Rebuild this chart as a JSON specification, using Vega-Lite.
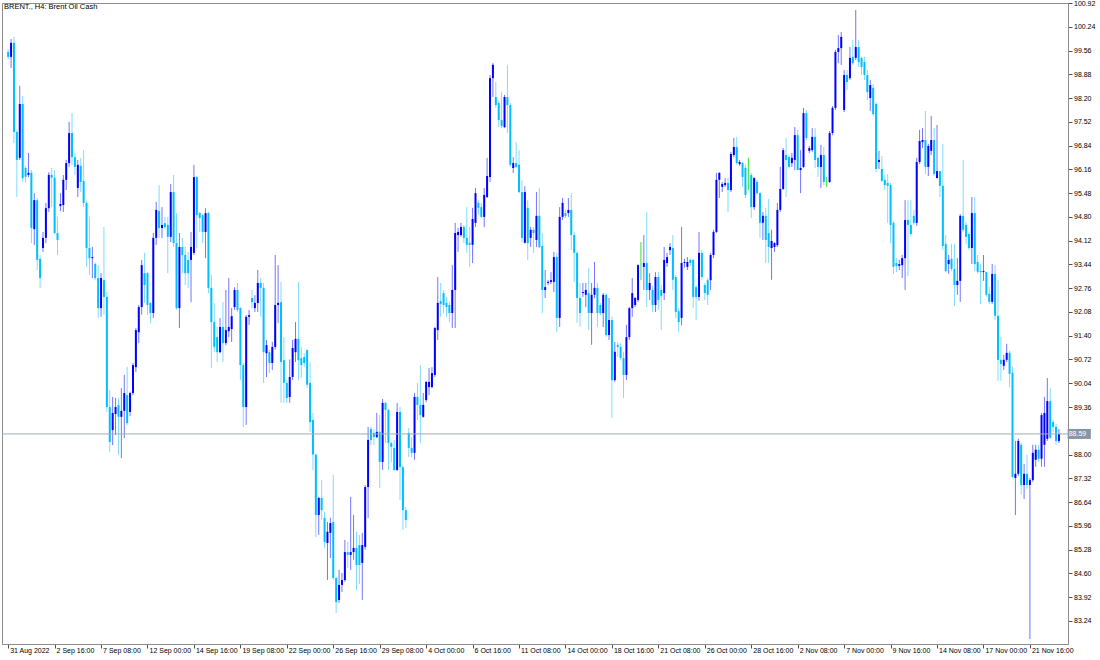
{
"$schema": "https://vega.github.io/schema/vega-lite/v6.json",
"width": 1066,
"height": 641,
"autosize": "none",
"padding": {"left": 2, "top": 3, "right": 32, "bottom": 16},
"background": "white",
"config": {"view": {"stroke": "#8c8c8c", "strokeWidth": 1}, "font": "Liberation Sans", "axis": {"labelOverlap": false, "labelFlush": false, "labelBound": false, "grid": false, "labelFontSize": 7, "labelFont": "Liberation Sans", "labelColor": "#000000", "tickSize": 4, "tickColor": "#505050", "domainColor": "#8c8c8c", "title": null}},
"title": {"text": "BRENT., H4:  Brent Oil Cash", "anchor": "start", "frame": "group", "orient": "top", "offset": -11, "baseline": "top", "dx": 2, "fontSize": 7.5, "fontWeight": "normal", "font": "Liberation Sans", "color": "#000000"},
"resolve": {"axis": {"x": "independent", "y": "independent"}},
"datasets": {
"bars": [
{"i":0,"o":99.52,"h":99.60,"l":99.30,"c":99.38},
{"i":1,"o":99.38,"h":99.89,"l":99.06,"c":99.78},
{"i":2,"o":99.78,"h":99.95,"l":96.91,"c":97.23},
{"i":3,"o":97.23,"h":97.30,"l":95.37,"c":96.43},
{"i":4,"o":96.49,"h":98.55,"l":96.43,"c":98.03},
{"i":5,"o":98.03,"h":98.26,"l":95.80,"c":95.91},
{"i":6,"o":96.20,"h":96.25,"l":95.78,"c":95.95},
{"i":7,"o":96.00,"h":96.63,"l":95.94,"c":96.06},
{"i":8,"o":96.06,"h":96.14,"l":94.05,"c":94.48},
{"i":9,"o":94.45,"h":95.48,"l":94.00,"c":95.28},
{"i":10,"o":95.28,"h":95.34,"l":93.28,"c":93.57},
{"i":11,"o":93.60,"h":93.71,"l":92.77,"c":93.05},
{"i":12,"o":93.91,"h":94.37,"l":93.80,"c":94.20},
{"i":13,"o":94.20,"h":95.20,"l":94.05,"c":95.05},
{"i":14,"o":95.05,"h":96.08,"l":94.94,"c":96.00},
{"i":15,"o":96.00,"h":96.20,"l":95.08,"c":95.92},
{"i":16,"o":95.92,"h":96.14,"l":94.30,"c":94.34},
{"i":17,"o":94.34,"h":94.80,"l":93.71,"c":94.14},
{"i":18,"o":95.11,"h":95.48,"l":94.97,"c":95.17},
{"i":19,"o":95.14,"h":96.00,"l":94.94,"c":95.86},
{"i":20,"o":95.86,"h":96.43,"l":95.57,"c":96.34},
{"i":21,"o":96.34,"h":97.52,"l":96.23,"c":97.20},
{"i":22,"o":97.20,"h":97.77,"l":96.28,"c":96.51},
{"i":23,"o":96.51,"h":96.63,"l":96.00,"c":96.23},
{"i":24,"o":95.63,"h":96.43,"l":95.37,"c":96.29},
{"i":25,"o":96.26,"h":96.49,"l":95.51,"c":95.80},
{"i":26,"o":95.83,"h":96.71,"l":95.08,"c":95.20},
{"i":27,"o":95.20,"h":95.25,"l":93.37,"c":93.91},
{"i":28,"o":93.91,"h":94.80,"l":93.14,"c":93.62},
{"i":29,"o":93.62,"h":93.94,"l":93.05,"c":93.65},
{"i":30,"o":93.45,"h":93.50,"l":93.00,"c":93.05},
{"i":31,"o":93.05,"h":93.42,"l":91.91,"c":92.19},
{"i":32,"o":92.19,"h":93.19,"l":91.94,"c":93.05},
{"i":33,"o":92.99,"h":94.51,"l":92.00,"c":92.51},
{"i":34,"o":92.51,"h":92.65,"l":89.22,"c":89.36},
{"i":35,"o":89.36,"h":89.85,"l":88.07,"c":88.36},
{"i":36,"o":88.70,"h":89.65,"l":88.27,"c":89.19},
{"i":37,"o":89.16,"h":89.62,"l":88.56,"c":89.36},
{"i":38,"o":89.42,"h":89.62,"l":87.99,"c":89.08},
{"i":39,"o":89.08,"h":89.90,"l":87.90,"c":89.25},
{"i":40,"o":89.25,"h":90.28,"l":88.47,"c":89.76},
{"i":41,"o":89.70,"h":90.51,"l":88.85,"c":88.90},
{"i":42,"o":89.22,"h":89.80,"l":89.10,"c":89.76},
{"i":43,"o":89.76,"h":90.62,"l":89.70,"c":90.56},
{"i":44,"o":90.50,"h":91.62,"l":90.36,"c":91.56},
{"i":45,"o":91.50,"h":92.28,"l":91.19,"c":92.22},
{"i":46,"o":92.22,"h":93.57,"l":92.00,"c":93.42},
{"i":47,"o":93.19,"h":93.77,"l":92.34,"c":92.85},
{"i":48,"o":93.19,"h":93.22,"l":92.00,"c":92.28},
{"i":49,"o":92.34,"h":92.36,"l":91.76,"c":92.05},
{"i":50,"o":92.05,"h":94.34,"l":91.91,"c":94.20},
{"i":51,"o":94.20,"h":95.23,"l":94.00,"c":95.00},
{"i":52,"o":94.97,"h":95.71,"l":94.20,"c":94.48},
{"i":53,"o":94.48,"h":95.08,"l":94.20,"c":94.57},
{"i":54,"o":94.62,"h":94.80,"l":94.45,"c":94.51},
{"i":55,"o":94.57,"h":94.80,"l":93.19,"c":94.23},
{"i":56,"o":94.23,"h":95.74,"l":94.08,"c":95.51},
{"i":57,"o":95.51,"h":96.00,"l":93.94,"c":94.05},
{"i":58,"o":94.05,"h":94.91,"l":92.15,"c":92.19},
{"i":59,"o":92.19,"h":94.34,"l":91.62,"c":93.94},
{"i":60,"o":93.94,"h":94.20,"l":93.19,"c":93.71},
{"i":61,"o":93.71,"h":93.94,"l":92.85,"c":93.19},
{"i":62,"o":93.57,"h":93.80,"l":92.77,"c":93.19},
{"i":63,"o":93.57,"h":94.37,"l":92.36,"c":93.94},
{"i":64,"o":93.77,"h":96.29,"l":93.71,"c":95.94},
{"i":65,"o":95.94,"h":95.97,"l":93.91,"c":94.85},
{"i":66,"o":94.91,"h":94.94,"l":94.37,"c":94.77},
{"i":67,"o":94.85,"h":94.88,"l":94.05,"c":94.37},
{"i":68,"o":94.37,"h":95.05,"l":93.62,"c":94.91},
{"i":69,"o":94.91,"h":94.94,"l":92.62,"c":92.77},
{"i":70,"o":92.77,"h":93.14,"l":90.48,"c":91.79},
{"i":71,"o":91.79,"h":92.34,"l":90.93,"c":91.08},
{"i":72,"o":91.36,"h":91.65,"l":90.65,"c":90.93},
{"i":73,"o":90.93,"h":91.91,"l":90.90,"c":91.65},
{"i":74,"o":91.65,"h":92.36,"l":90.65,"c":91.19},
{"i":75,"o":91.19,"h":92.71,"l":91.13,"c":91.56},
{"i":76,"o":91.53,"h":93.05,"l":91.36,"c":91.65},
{"i":77,"o":91.59,"h":92.19,"l":91.22,"c":91.96},
{"i":78,"o":92.22,"h":92.79,"l":92.14,"c":92.71},
{"i":79,"o":92.71,"h":92.91,"l":92.08,"c":92.14},
{"i":80,"o":92.19,"h":92.22,"l":90.13,"c":90.56},
{"i":81,"o":90.56,"h":90.62,"l":88.79,"c":89.36},
{"i":82,"o":89.36,"h":91.99,"l":88.85,"c":91.94},
{"i":83,"o":91.94,"h":92.14,"l":91.71,"c":91.99},
{"i":84,"o":92.48,"h":92.71,"l":92.19,"c":92.36},
{"i":85,"o":92.19,"h":92.56,"l":92.08,"c":92.34},
{"i":86,"o":92.34,"h":93.28,"l":92.08,"c":92.91},
{"i":87,"o":92.91,"h":93.05,"l":91.94,"c":92.77},
{"i":88,"o":92.77,"h":92.91,"l":90.05,"c":90.93},
{"i":89,"o":90.90,"h":91.28,"l":90.22,"c":91.13},
{"i":90,"o":90.93,"h":91.00,"l":90.33,"c":90.62},
{"i":91,"o":90.62,"h":91.22,"l":90.42,"c":91.08},
{"i":92,"o":91.08,"h":93.71,"l":91.00,"c":92.28},
{"i":93,"o":92.28,"h":93.42,"l":91.76,"c":92.34},
{"i":94,"o":92.36,"h":92.94,"l":89.48,"c":90.65},
{"i":95,"o":90.70,"h":91.36,"l":89.48,"c":90.05},
{"i":96,"o":90.05,"h":90.13,"l":89.48,"c":89.62},
{"i":97,"o":89.65,"h":90.72,"l":89.48,"c":90.22},
{"i":98,"o":90.22,"h":91.28,"l":90.13,"c":91.05},
{"i":99,"o":90.93,"h":91.79,"l":90.65,"c":91.31},
{"i":100,"o":91.31,"h":92.94,"l":90.13,"c":90.70},
{"i":101,"o":90.76,"h":91.08,"l":90.19,"c":90.56},
{"i":102,"o":90.79,"h":90.90,"l":90.50,"c":90.62},
{"i":103,"o":90.99,"h":91.00,"l":89.91,"c":90.00},
{"i":104,"o":90.05,"h":90.65,"l":88.65,"c":88.93},
{"i":105,"o":88.99,"h":89.19,"l":87.56,"c":88.00},
{"i":106,"o":88.00,"h":88.02,"l":85.64,"c":86.27},
{"i":107,"o":86.27,"h":86.79,"l":85.70,"c":86.76},
{"i":108,"o":86.76,"h":87.27,"l":86.13,"c":86.41},
{"i":109,"o":86.19,"h":86.36,"l":85.33,"c":85.50},
{"i":110,"o":85.47,"h":86.07,"l":84.41,"c":85.79},
{"i":111,"o":85.76,"h":86.19,"l":85.04,"c":86.04},
{"i":112,"o":86.07,"h":87.42,"l":84.41,"c":84.47},
{"i":113,"o":84.47,"h":84.50,"l":83.47,"c":83.78},
{"i":114,"o":83.84,"h":84.70,"l":83.76,"c":84.27},
{"i":115,"o":84.27,"h":84.61,"l":84.07,"c":84.41},
{"i":116,"o":84.41,"h":85.56,"l":84.36,"c":85.21},
{"i":117,"o":85.21,"h":85.50,"l":84.76,"c":85.13},
{"i":118,"o":85.13,"h":86.79,"l":84.70,"c":85.21},
{"i":119,"o":85.21,"h":86.27,"l":84.99,"c":85.33},
{"i":120,"o":85.33,"h":85.79,"l":84.13,"c":84.84},
{"i":121,"o":85.41,"h":85.70,"l":84.30,"c":84.84},
{"i":122,"o":84.90,"h":85.76,"l":83.84,"c":85.41},
{"i":123,"o":85.36,"h":87.13,"l":85.28,"c":87.07},
{"i":124,"o":87.07,"h":88.79,"l":86.19,"c":88.42},
{"i":125,"o":88.73,"h":88.79,"l":88.27,"c":88.42},
{"i":126,"o":88.62,"h":88.73,"l":88.27,"c":88.50},
{"i":127,"o":88.50,"h":89.19,"l":88.47,"c":88.65},
{"i":128,"o":88.65,"h":89.13,"l":87.04,"c":87.79},
{"i":129,"o":87.79,"h":89.59,"l":87.56,"c":89.48},
{"i":130,"o":89.48,"h":89.50,"l":88.33,"c":89.28},
{"i":131,"o":89.28,"h":89.30,"l":87.56,"c":88.33},
{"i":132,"o":88.33,"h":88.36,"l":87.79,"c":88.22},
{"i":133,"o":88.19,"h":88.42,"l":87.53,"c":87.56},
{"i":134,"o":87.56,"h":89.48,"l":87.53,"c":89.22},
{"i":135,"o":89.22,"h":89.36,"l":86.70,"c":87.64},
{"i":136,"o":87.64,"h":87.70,"l":85.84,"c":86.41},
{"i":137,"o":86.41,"h":86.50,"l":85.90,"c":86.13},
{"i":138,"o":88.62,"h":88.76,"l":87.93,"c":88.19},
{"i":139,"o":88.19,"h":88.50,"l":87.93,"c":88.05},
{"i":140,"o":88.05,"h":89.76,"l":87.85,"c":89.65},
{"i":141,"o":89.65,"h":90.05,"l":88.99,"c":89.42},
{"i":142,"o":89.42,"h":90.56,"l":88.33,"c":89.13},
{"i":143,"o":89.08,"h":89.76,"l":89.05,"c":89.42},
{"i":144,"o":89.56,"h":90.10,"l":89.50,"c":90.08},
{"i":145,"o":89.93,"h":90.48,"l":89.70,"c":90.08},
{"i":146,"o":89.93,"h":90.50,"l":89.90,"c":90.33},
{"i":147,"o":90.28,"h":91.65,"l":90.22,"c":91.62},
{"i":148,"o":91.56,"h":93.08,"l":91.28,"c":92.34},
{"i":149,"o":92.39,"h":92.91,"l":91.94,"c":92.31},
{"i":150,"o":92.62,"h":92.71,"l":92.05,"c":92.28},
{"i":151,"o":92.34,"h":92.51,"l":91.94,"c":92.22},
{"i":152,"o":92.28,"h":92.37,"l":91.79,"c":92.05},
{"i":153,"o":92.05,"h":93.42,"l":91.62,"c":92.71},
{"i":154,"o":92.71,"h":94.63,"l":91.62,"c":94.34},
{"i":155,"o":94.28,"h":94.48,"l":93.80,"c":94.37},
{"i":156,"o":94.28,"h":94.63,"l":94.23,"c":94.51},
{"i":157,"o":94.51,"h":94.57,"l":94.05,"c":94.20},
{"i":158,"o":94.20,"h":95.08,"l":93.77,"c":94.00},
{"i":159,"o":94.06,"h":94.51,"l":93.37,"c":94.00},
{"i":160,"o":94.00,"h":95.06,"l":93.48,"c":94.74},
{"i":161,"o":94.63,"h":95.63,"l":94.51,"c":95.48},
{"i":162,"o":95.20,"h":95.28,"l":94.86,"c":95.06},
{"i":163,"o":95.08,"h":95.20,"l":94.77,"c":94.80},
{"i":164,"o":94.80,"h":95.63,"l":94.51,"c":95.43},
{"i":165,"o":95.37,"h":96.49,"l":95.34,"c":95.97},
{"i":166,"o":95.94,"h":98.86,"l":95.80,"c":98.77},
{"i":167,"o":98.77,"h":99.20,"l":98.23,"c":99.15},
{"i":168,"o":98.23,"h":98.66,"l":97.92,"c":98.00},
{"i":169,"o":98.06,"h":98.12,"l":97.37,"c":97.57},
{"i":170,"o":97.57,"h":98.37,"l":97.34,"c":97.40},
{"i":171,"o":97.37,"h":98.29,"l":97.34,"c":98.23},
{"i":172,"o":98.23,"h":99.15,"l":97.20,"c":98.00},
{"i":173,"o":98.00,"h":98.06,"l":96.23,"c":96.29},
{"i":174,"o":96.20,"h":96.51,"l":96.06,"c":96.34},
{"i":175,"o":96.34,"h":96.94,"l":96.20,"c":96.23},
{"i":176,"o":96.29,"h":96.71,"l":95.48,"c":95.51},
{"i":177,"o":95.51,"h":95.86,"l":94.08,"c":94.20},
{"i":178,"o":94.06,"h":95.68,"l":94.04,"c":95.51},
{"i":179,"o":95.06,"h":95.28,"l":93.57,"c":94.05},
{"i":180,"o":94.20,"h":94.51,"l":93.94,"c":94.43},
{"i":181,"o":94.43,"h":94.51,"l":93.77,"c":94.34},
{"i":182,"o":94.14,"h":95.51,"l":93.94,"c":94.83},
{"i":183,"o":94.83,"h":95.63,"l":93.91,"c":93.94},
{"i":184,"o":93.97,"h":94.34,"l":92.05,"c":92.71},
{"i":185,"o":92.71,"h":93.28,"l":92.48,"c":92.79},
{"i":186,"o":92.91,"h":93.00,"l":92.85,"c":92.94},
{"i":187,"o":92.94,"h":93.22,"l":92.88,"c":92.99},
{"i":188,"o":92.94,"h":93.80,"l":92.65,"c":93.65},
{"i":189,"o":93.65,"h":93.77,"l":91.51,"c":91.91},
{"i":190,"o":91.91,"h":95.08,"l":91.65,"c":94.80},
{"i":191,"o":94.80,"h":95.34,"l":94.71,"c":95.20},
{"i":192,"o":94.91,"h":95.00,"l":94.77,"c":94.83},
{"i":193,"o":94.91,"h":95.34,"l":94.80,"c":95.00},
{"i":194,"o":95.00,"h":95.48,"l":93.85,"c":94.28},
{"i":195,"o":94.28,"h":94.37,"l":92.94,"c":93.77},
{"i":196,"o":93.77,"h":93.80,"l":91.77,"c":92.48},
{"i":197,"o":92.48,"h":92.91,"l":91.65,"c":92.05},
{"i":198,"o":92.62,"h":92.91,"l":92.51,"c":92.65},
{"i":199,"o":92.57,"h":92.91,"l":92.22,"c":92.71},
{"i":200,"o":92.62,"h":93.34,"l":91.56,"c":92.05},
{"i":201,"o":92.05,"h":92.91,"l":91.14,"c":92.57},
{"i":202,"o":92.57,"h":93.51,"l":92.48,"c":92.77},
{"i":203,"o":92.77,"h":92.91,"l":91.65,"c":92.05},
{"i":204,"o":92.28,"h":92.34,"l":91.99,"c":92.05},
{"i":205,"o":92.05,"h":92.62,"l":91.65,"c":92.57},
{"i":206,"o":92.57,"h":92.62,"l":91.37,"c":91.42},
{"i":207,"o":91.42,"h":92.48,"l":91.28,"c":91.85},
{"i":208,"o":91.85,"h":91.94,"l":89.05,"c":90.13},
{"i":209,"o":90.13,"h":91.22,"l":90.08,"c":90.94},
{"i":210,"o":91.14,"h":91.22,"l":90.79,"c":91.08},
{"i":211,"o":91.08,"h":91.19,"l":90.71,"c":90.76},
{"i":212,"o":90.76,"h":90.94,"l":89.62,"c":90.28},
{"i":213,"o":90.28,"h":91.71,"l":90.13,"c":91.36},
{"i":214,"o":91.36,"h":92.22,"l":91.28,"c":92.19},
{"i":215,"o":92.19,"h":93.05,"l":91.94,"c":92.62},
{"i":216,"o":92.28,"h":92.51,"l":92.22,"c":92.48},
{"i":217,"o":92.42,"h":93.44,"l":92.37,"c":93.42},
{"i":218,"o":93.42,"h":94.08,"l":92.99,"c":93.42},
{"i":219,"o":93.37,"h":94.28,"l":92.71,"c":93.48},
{"i":220,"o":93.48,"h":94.94,"l":92.22,"c":92.71},
{"i":221,"o":92.71,"h":93.19,"l":92.42,"c":92.91},
{"i":222,"o":92.71,"h":92.82,"l":92.08,"c":92.28},
{"i":223,"o":92.28,"h":93.22,"l":92.08,"c":93.08},
{"i":224,"o":93.08,"h":93.22,"l":92.14,"c":92.42},
{"i":225,"o":92.71,"h":92.85,"l":91.56,"c":92.54},
{"i":226,"o":92.62,"h":93.94,"l":92.42,"c":93.57},
{"i":227,"o":93.48,"h":93.77,"l":93.37,"c":93.65},
{"i":228,"o":93.85,"h":94.05,"l":93.71,"c":93.94},
{"i":229,"o":93.91,"h":94.28,"l":92.71,"c":93.00},
{"i":230,"o":93.08,"h":93.14,"l":91.91,"c":92.08},
{"i":231,"o":92.10,"h":92.20,"l":91.50,"c":91.79},
{"i":232,"o":91.91,"h":94.51,"l":91.70,"c":93.48},
{"i":233,"o":93.48,"h":93.60,"l":93.35,"c":93.51},
{"i":234,"o":93.37,"h":93.65,"l":93.28,"c":93.51},
{"i":235,"o":93.57,"h":93.60,"l":93.40,"c":93.48},
{"i":236,"o":93.57,"h":93.60,"l":92.20,"c":92.51},
{"i":237,"o":92.79,"h":92.85,"l":91.85,"c":92.51},
{"i":238,"o":92.51,"h":94.37,"l":92.40,"c":93.77},
{"i":239,"o":93.77,"h":93.85,"l":93.00,"c":93.08},
{"i":240,"o":92.85,"h":92.91,"l":92.42,"c":92.62},
{"i":241,"o":92.99,"h":93.05,"l":92.28,"c":92.57},
{"i":242,"o":92.99,"h":93.77,"l":92.71,"c":93.71},
{"i":243,"o":93.71,"h":94.43,"l":93.62,"c":94.37},
{"i":244,"o":94.37,"h":96.06,"l":94.34,"c":95.86},
{"i":245,"o":95.86,"h":96.08,"l":95.34,"c":96.06},
{"i":246,"o":95.66,"h":95.80,"l":95.51,"c":95.74},
{"i":247,"o":95.71,"h":95.91,"l":95.66,"c":95.77},
{"i":248,"o":95.77,"h":95.91,"l":94.94,"c":95.57},
{"i":249,"o":95.57,"h":96.66,"l":95.51,"c":96.60},
{"i":250,"o":96.57,"h":97.06,"l":96.51,"c":96.80},
{"i":251,"o":96.80,"h":97.09,"l":96.29,"c":96.34},
{"i":252,"o":96.31,"h":96.43,"l":96.26,"c":96.37},
{"i":253,"o":96.34,"h":96.37,"l":95.66,"c":95.94},
{"i":254,"o":96.20,"h":96.29,"l":95.34,"c":95.43},
{"i":255,"o":96.00,"h":96.49,"l":95.57,"c":96.00},
{"i":256,"o":96.00,"h":96.06,"l":94.77,"c":95.08},
{"i":257,"o":95.08,"h":95.94,"l":95.00,"c":95.91},
{"i":258,"o":95.80,"h":95.86,"l":95.43,"c":95.48},
{"i":259,"o":95.48,"h":95.51,"l":94.20,"c":94.63},
{"i":260,"o":94.63,"h":94.94,"l":94.14,"c":94.83},
{"i":261,"o":94.83,"h":95.06,"l":93.48,"c":94.14},
{"i":262,"o":94.34,"h":95.31,"l":93.48,"c":93.94},
{"i":263,"o":93.91,"h":94.43,"l":93.00,"c":94.11},
{"i":264,"o":93.94,"h":94.08,"l":93.80,"c":94.05},
{"i":265,"o":93.99,"h":95.20,"l":93.94,"c":95.00},
{"i":266,"o":95.00,"h":96.23,"l":94.94,"c":95.60},
{"i":267,"o":95.60,"h":96.77,"l":95.57,"c":96.71},
{"i":268,"o":96.57,"h":97.06,"l":95.37,"c":96.43},
{"i":269,"o":96.51,"h":96.57,"l":96.20,"c":96.23},
{"i":270,"o":96.34,"h":96.63,"l":96.23,"c":96.49},
{"i":271,"o":96.43,"h":97.37,"l":96.14,"c":97.14},
{"i":272,"o":97.14,"h":97.29,"l":96.14,"c":96.14},
{"i":273,"o":96.14,"h":96.71,"l":95.48,"c":96.20},
{"i":274,"o":96.23,"h":97.92,"l":96.20,"c":97.77},
{"i":275,"o":97.77,"h":97.86,"l":97.00,"c":97.06},
{"i":276,"o":96.69,"h":96.83,"l":96.63,"c":96.77},
{"i":277,"o":96.71,"h":97.34,"l":96.66,"c":97.09},
{"i":278,"o":97.09,"h":97.34,"l":96.20,"c":96.43},
{"i":279,"o":96.49,"h":96.51,"l":95.94,"c":96.23},
{"i":280,"o":96.23,"h":96.86,"l":95.63,"c":96.57},
{"i":281,"o":96.57,"h":96.80,"l":95.71,"c":95.80},
{"i":282,"o":95.80,"h":95.94,"l":95.66,"c":95.80},
{"i":283,"o":95.80,"h":97.26,"l":95.77,"c":97.20},
{"i":284,"o":97.20,"h":97.97,"l":97.14,"c":97.92},
{"i":285,"o":97.92,"h":99.58,"l":97.86,"c":99.52},
{"i":286,"o":99.52,"h":100.00,"l":99.20,"c":99.63},
{"i":287,"o":99.63,"h":100.09,"l":99.15,"c":99.95},
{"i":288,"o":97.86,"h":99.00,"l":97.80,"c":98.86},
{"i":289,"o":98.86,"h":99.00,"l":98.43,"c":98.66},
{"i":290,"o":98.77,"h":99.66,"l":98.72,"c":99.35},
{"i":291,"o":99.38,"h":99.86,"l":99.15,"c":99.20},
{"i":292,"o":99.35,"h":100.72,"l":99.29,"c":99.66},
{"i":293,"o":99.66,"h":99.86,"l":99.09,"c":99.23},
{"i":294,"o":99.35,"h":99.38,"l":98.86,"c":99.09},
{"i":295,"o":99.23,"h":99.38,"l":98.72,"c":98.86},
{"i":296,"o":98.86,"h":99.00,"l":98.14,"c":98.37},
{"i":297,"o":98.20,"h":98.72,"l":97.83,"c":98.57},
{"i":298,"o":98.49,"h":98.60,"l":97.69,"c":97.74},
{"i":299,"o":98.03,"h":98.09,"l":96.08,"c":96.17},
{"i":300,"o":96.37,"h":96.69,"l":96.17,"c":96.43},
{"i":301,"o":96.17,"h":96.54,"l":95.80,"c":95.83},
{"i":302,"o":95.86,"h":96.00,"l":95.57,"c":95.71},
{"i":303,"o":95.77,"h":96.03,"l":94.63,"c":95.69},
{"i":304,"o":95.71,"h":95.77,"l":94.05,"c":94.57},
{"i":305,"o":94.63,"h":94.68,"l":93.17,"c":93.37},
{"i":306,"o":93.48,"h":93.62,"l":93.22,"c":93.40},
{"i":307,"o":93.40,"h":93.57,"l":93.28,"c":93.45},
{"i":308,"o":93.42,"h":93.71,"l":93.05,"c":93.62},
{"i":309,"o":93.62,"h":95.28,"l":92.71,"c":94.71},
{"i":310,"o":94.71,"h":95.28,"l":93.11,"c":94.57},
{"i":311,"o":94.57,"h":95.28,"l":94.25,"c":94.31},
{"i":312,"o":94.83,"h":95.00,"l":94.57,"c":94.63},
{"i":313,"o":94.63,"h":96.49,"l":94.54,"c":96.37},
{"i":314,"o":96.37,"h":97.29,"l":96.31,"c":96.97},
{"i":315,"o":96.94,"h":97.34,"l":96.77,"c":97.00},
{"i":316,"o":97.00,"h":97.83,"l":96.03,"c":96.23},
{"i":317,"o":96.23,"h":96.89,"l":95.97,"c":96.83},
{"i":318,"o":96.69,"h":97.69,"l":96.57,"c":97.00},
{"i":319,"o":97.00,"h":97.34,"l":95.97,"c":96.03},
{"i":320,"o":95.91,"h":97.43,"l":95.91,"c":96.11},
{"i":321,"o":96.11,"h":96.11,"l":95.37,"c":95.69},
{"i":322,"o":95.69,"h":96.89,"l":93.85,"c":93.97},
{"i":323,"o":94.03,"h":94.28,"l":93.22,"c":93.25},
{"i":324,"o":93.45,"h":93.71,"l":93.17,"c":93.57},
{"i":325,"o":93.60,"h":94.03,"l":93.25,"c":93.31},
{"i":326,"o":93.31,"h":94.03,"l":92.25,"c":92.85},
{"i":327,"o":92.85,"h":93.62,"l":92.57,"c":92.97},
{"i":328,"o":92.97,"h":94.88,"l":92.37,"c":94.83},
{"i":329,"o":94.83,"h":96.43,"l":94.37,"c":94.43},
{"i":330,"o":94.57,"h":94.66,"l":94.03,"c":94.23},
{"i":331,"o":94.31,"h":94.37,"l":93.85,"c":93.91},
{"i":332,"o":93.91,"h":95.37,"l":93.45,"c":94.91},
{"i":333,"o":94.91,"h":95.37,"l":93.25,"c":93.45},
{"i":334,"o":93.51,"h":93.71,"l":93.17,"c":93.23},
{"i":335,"o":93.25,"h":93.45,"l":92.31,"c":93.22},
{"i":336,"o":93.22,"h":93.71,"l":92.97,"c":93.25},
{"i":337,"o":93.22,"h":93.23,"l":92.51,"c":92.57},
{"i":338,"o":92.60,"h":92.80,"l":92.31,"c":92.37},
{"i":339,"o":92.37,"h":93.45,"l":92.31,"c":93.17},
{"i":340,"o":93.17,"h":93.42,"l":91.85,"c":91.97},
{"i":341,"o":91.97,"h":92.99,"l":90.11,"c":90.71},
{"i":342,"o":90.71,"h":91.37,"l":90.11,"c":90.59},
{"i":343,"o":90.54,"h":90.85,"l":90.42,"c":90.71},
{"i":344,"o":90.71,"h":91.17,"l":90.65,"c":90.91},
{"i":345,"o":90.91,"h":90.97,"l":89.93,"c":90.31},
{"i":346,"o":90.34,"h":90.51,"l":87.33,"c":87.36},
{"i":347,"o":87.33,"h":88.39,"l":86.27,"c":87.45},
{"i":348,"o":87.45,"h":88.45,"l":87.39,"c":88.39},
{"i":349,"o":88.28,"h":88.33,"l":86.87,"c":87.13},
{"i":350,"o":87.13,"h":87.73,"l":86.73,"c":87.45},
{"i":351,"o":87.45,"h":87.99,"l":87.02,"c":87.13},
{"i":352,"o":87.13,"h":87.33,"l":82.72,"c":87.27},
{"i":353,"o":87.27,"h":88.28,"l":87.22,"c":88.05},
{"i":354,"o":87.85,"h":88.28,"l":87.65,"c":88.14},
{"i":355,"o":88.14,"h":88.28,"l":87.79,"c":87.88},
{"i":356,"o":87.88,"h":89.19,"l":87.65,"c":89.13},
{"i":357,"o":88.28,"h":89.65,"l":87.65,"c":89.19},
{"i":358,"o":88.45,"h":90.19,"l":88.39,"c":89.53},
{"i":359,"o":89.53,"h":89.90,"l":88.45,"c":88.48},
{"i":360,"o":88.93,"h":88.99,"l":88.65,"c":88.79},
{"i":361,"o":88.79,"h":88.88,"l":88.28,"c":88.39},
{"i":362,"o":88.39,"h":88.73,"l":88.33,"c":88.59}
],
"last": [{"price": 88.59, "x0": 365.0, "x1": 373.0, "label": "88.59"}]
},
"layer": [
{
"data": {"name": "bars"},
"mark": {"type": "rule", "strokeWidth": 1},
"encoding": {
"x": {"field": "i", "type": "quantitative", "scale": {"domain": [-0.4, 363.4], "nice": false, "zero": false},
"axis": {"values": [0,16,32,48,64,80,96,112,128,144,160,176,192,208,224,240,256,272,288,304,320,336,352],
"labelExpr": "['31 Aug 2022','2 Sep 16:00','7 Sep 08:00','12 Sep 00:00','14 Sep 16:00','19 Sep 08:00','22 Sep 00:00','26 Sep 16:00','29 Sep 08:00','4 Oct 00:00','6 Oct 16:00','11 Oct 08:00','14 Oct 00:00','18 Oct 16:00','21 Oct 08:00','26 Oct 00:00','28 Oct 16:00','2 Nov 08:00','7 Nov 00:00','9 Nov 16:00','14 Nov 08:00','17 Nov 00:00','21 Nov 16:00'][round(datum.value/16)]",
"labelAlign": "left", "labelBaseline": "top", "labelPadding": -2, "labelOffset": 1.5, "labelOverlap": false}},
"y": {"field": "l", "type": "quantitative", "scale": {"domain": [82.58, 100.92], "nice": false, "zero": false},
"axis": {"orient": "right", "values": [83.24,83.92,84.6,85.28,85.96,86.64,87.32,88.0,89.36,90.04,90.72,91.4,92.08,92.76,93.44,94.12,94.8,95.48,96.16,96.84,97.52,98.2,98.88,99.56,100.24,100.92],
"format": ".2f", "labelPadding": 1.5, "labelOverlap": false, "labelSeparation": 0}},
"y2": {"field": "h"},
"color": {"condition": [{"test": "datum.c > datum.o", "value": "#7474ff"}, {"test": "datum.c == datum.o", "value": "#33dd33"}], "value": "#7fdbff"}
}
},
{
"data": {"name": "bars"},
"mark": {"type": "bar", "width": 2},
"encoding": {
"x": {"field": "i", "type": "quantitative", "axis": null},
"y": {"field": "o", "type": "quantitative", "axis": null},
"y2": {"field": "c"},
"color": {"condition": [{"test": "datum.c > datum.o", "value": "#0000ff"}, {"test": "datum.c == datum.o", "value": "#00cc00"}], "value": "#00bfff"}
}
},
{
"data": {"name": "last"},
"mark": {"type": "rule", "color": "#a3acb5", "strokeWidth": 1},
"encoding": {"y": {"field": "price", "type": "quantitative", "axis": null}}
},
{
"data": {"name": "last"},
"mark": {"type": "rule", "color": "#8796a5", "strokeWidth": 10, "strokeCap": "butt"},
"encoding": {"x": {"field": "x0", "type": "quantitative", "axis": null}, "x2": {"field": "x1"}, "y": {"field": "price", "type": "quantitative", "axis": null}}
},
{
"data": {"name": "last"},
"mark": {"type": "text", "align": "left", "baseline": "middle", "dx": 1, "fontSize": 7, "font": "Liberation Sans", "color": "#ffffff"},
"encoding": {"x": {"field": "x0", "type": "quantitative", "axis": null}, "y": {"field": "price", "type": "quantitative", "axis": null}, "text": {"field": "label"}}
}
]
}
